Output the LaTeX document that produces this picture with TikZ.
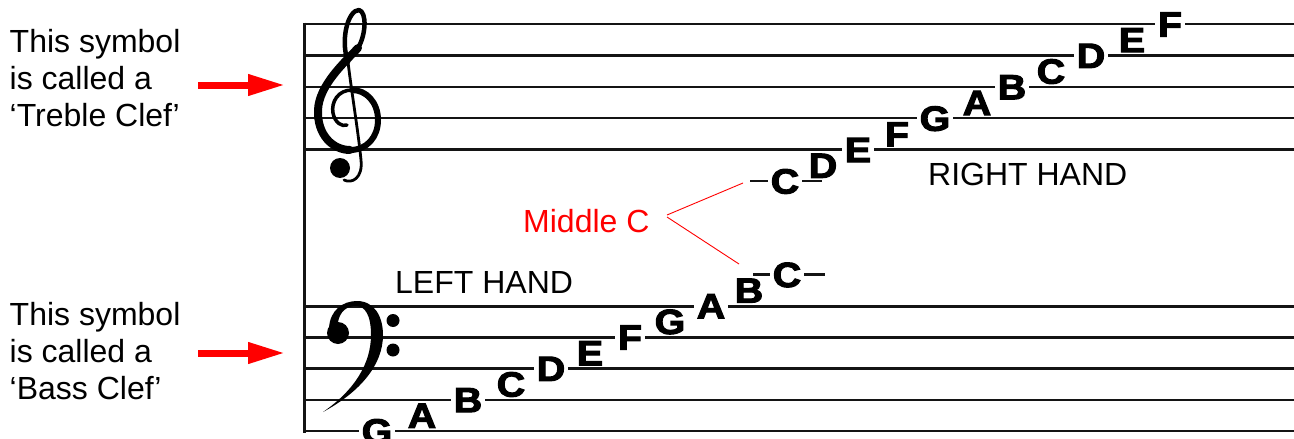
\documentclass[tikz,border=0pt]{standalone}
\usepackage{fontspec}
\setmainfont{Liberation Sans}
\newfontfamily\notefont{Liberation Sans}[BoldFeatures={FakeBold=3}]
\usetikzlibrary{arrows.meta}
\definecolor{mred}{RGB}{255,0,0}
\newcommand{\wide}[1]{\scalebox{1.12}[1]{#1}}
\tikzset{
  staff/.style={line width=2.5pt, draw=black!92},
  bar/.style={line width=3pt, draw=black!92},
  notebase/.style={font=\notefont\bfseries\fontsize{35}{35}\selectfont, inner xsep=3pt, inner ysep=0pt, text height=25pt, text depth=0pt},
  nln/.style={notebase, fill=white},
  nsp/.style={notebase},
  lbl/.style={font=\fontsize{32}{37}\selectfont, inner sep=0pt},
  redarrow/.style={draw=mred, line width=7pt, -{Triangle[length=37pt,width=20pt,fill=mred]}},
  mcline/.style={draw=mred, line width=0.9pt},
  clef/.style={line cap=round, line join=round, draw=black},
}
\begin{document}
\begin{tikzpicture}[x=1pt, y=-1pt]
\useasboundingbox (0,0) rectangle (1294,439);
% staves
\foreach \yy in {24,55.5,87,118,149.5} { \draw[staff] (304,\yy) -- (1294,\yy); }
\foreach \yy in {306.5,337.5,368.5,400,431} { \draw[staff] (304,\yy) -- (1294,\yy); }
\draw[bar] (304,22.5) -- (304,432.5);
% ledger lines
\draw[staff] (750,181) -- (822,181);
\draw[staff] (753,274.5) -- (825,274.5);
% treble notes
\foreach \l/\x [count=\i from 0] in {C/785,D/823,E/858,F/897,G/935,A/977,B/1012,C/1051,D/1091,E/1132,F/1170} {
  \pgfmathsetmacro\yy{181-15.7*\i}
  \ifodd\i \node[nsp] (t\i) at (\x,\yy) {\wide{\l}}; \else \node[nln] (t\i) at (\x,\yy) {\wide{\l}}; \fi
}
% bass notes
\foreach \l/\x [count=\i from 0] in {G/377,A/422,B/468,C/511,D/551,E/590,F/630,G/670,A/711,B/749,C/787} {
  \pgfmathsetmacro\yy{431-15.65*\i}
  \ifodd\i \node[nsp] (b\i) at (\x,\yy) {\wide{\l}}; \else \node[nln] (b\i) at (\x,\yy) {\wide{\l}}; \fi
}
% treble clef
\draw[clef, line width=4.5pt] (348,62) .. controls (340,40) and (348,10) .. (359,10) .. controls (367,12) and (366,35) .. (358,48);
\draw[clef, line width=8pt] (358,48) .. controls (345,62) and (319,85) .. (318,110) .. controls (317,135) and (333,150) .. (350,150);
\draw[clef, line width=6pt] (350,150) .. controls (367,150) and (378,137) .. (378,120) .. controls (378,102) and (366,90) .. (352,90);
\draw[clef, line width=3.5pt] (352,90) .. controls (338,90) and (331,102) .. (333,113) .. controls (335,123) and (342,127) .. (347,125);
\draw[clef, line width=2.8pt] (348,62) .. controls (352,95) and (358,130) .. (361,160) .. controls (363,178) and (352,184) .. (344,180);
\fill (340,168) circle (10);
% bass clef
\fill (329,328) .. controls (330,310) and (343,301) .. (357,301) .. controls (374,301) and (383,316) .. (383,335)
  .. controls (383,365) and (360,392) .. (323,412) .. controls (355,390) and (371,363) .. (371,335)
  .. controls (371,315) and (365,306) .. (356,306) .. controls (346,306) and (340,312) .. (338,322) -- cycle;
\fill (338,333) circle (11);
\fill (393,320.5) circle (6.5);
\fill (393,350) circle (6.5);
% labels
\node[lbl, anchor=north west, align=left] (treb) at (9.5,29.1) {This symbol\\is called a\\‘Treble Clef’};
\node[lbl, anchor=north west, align=left] (bass) at (9.5,302.1) {This symbol\\is called a\\‘Bass Clef’};
\node[lbl, anchor=base west] (rh) at (928,185) {RIGHT HAND};
\node[lbl, anchor=base west] (lh) at (395,293) {LEFT HAND};
\node[lbl, anchor=base west, text=mred] (mc) at (523,232) {Middle C};
% red arrows
\coordinate (ta0) at (198,85);
\coordinate (ta1) at (285,85);
\coordinate (ba0) at (198,353);
\coordinate (ba1) at (285,353);
\draw[redarrow] (ta0) -- (ta1);
\draw[redarrow] (ba0) -- (ba1);
% middle C pointers
\coordinate (mcu0) at (667,215);
\coordinate (mcu1) at (743,183);
\coordinate (mcd0) at (667,217);
\coordinate (mcd1) at (739,264);
\draw[mcline] (mcu0) -- (mcu1);
\draw[mcline] (mcd0) -- (mcd1);
\end{tikzpicture}
\end{document}
